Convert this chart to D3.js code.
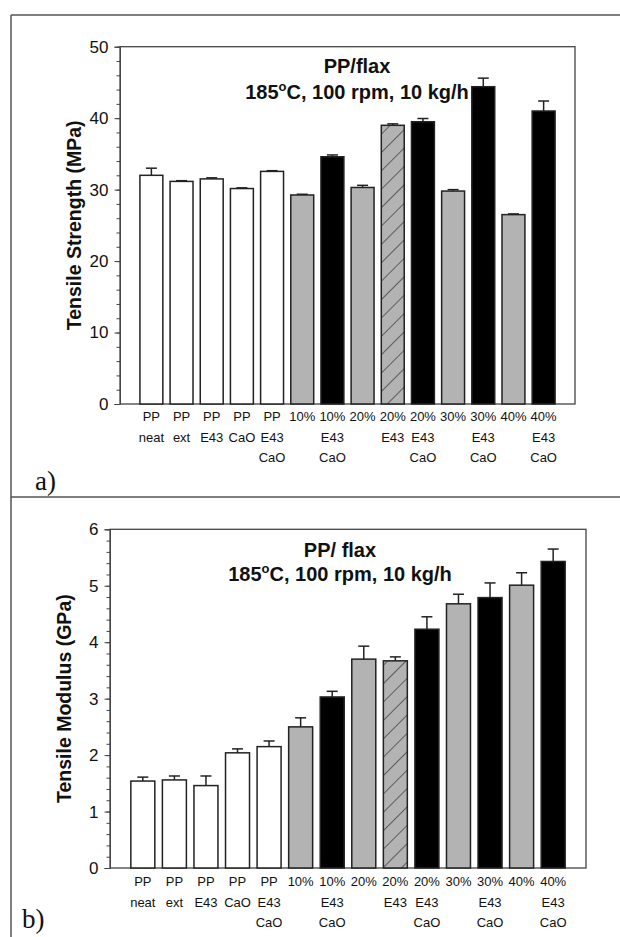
<!DOCTYPE html>
<html>
<head>
<meta charset="utf-8">
<script src="https://cdn.jsdelivr.net/npm/d3@7"></script>
<style>
  body { margin: 0; background: #fff; }
  svg text { font-family: "Liberation Sans", Arial, sans-serif; fill: #111; }
</style>
</head>
<body>
<div id="chart"></div>
<script>
// categories, one array of label lines per bar
const categories = [
    ["PP", "neat"], ["PP", "ext"], ["PP", "E43"], ["PP", "CaO"], ["PP", "E43", "CaO"],
    ["10%"], ["10%", "E43", "CaO"], ["20%"], ["20%", "E43"], ["20%", "E43", "CaO"],
    ["30%"], ["30%", "E43", "CaO"], ["40%"], ["40%", "E43", "CaO"]
];
// bar fill kind per category
const barKinds = ["white", "white", "white", "white", "white",
    "gray", "black", "gray", "hatch", "black", "gray", "black", "gray", "black"];

const strength = [32.0, 31.15, 31.5, 30.15, 32.55, 29.25, 34.6, 30.3, 39.0, 39.5, 29.8, 44.4, 26.5, 41.0];
const strengthErr = [1.0, 0.1, 0.15, 0.1, 0.1, 0.1, 0.25, 0.3, 0.2, 0.45, 0.2, 1.2, 0.1, 1.4];

const modulus = [1.54, 1.56, 1.46, 2.04, 2.15, 2.50, 3.03, 3.70, 3.67, 4.23, 4.68, 4.79, 5.01, 5.43];
const modulusErr = [0.07, 0.07, 0.17, 0.07, 0.10, 0.16, 0.10, 0.23, 0.07, 0.22, 0.17, 0.26, 0.22, 0.22];

const strengthTicks = [0, 10, 20, 30, 40, 50];
const modulusTicks = [0, 1, 2, 3, 4, 5, 6];

const width = 620, height = 937;
const ink = "#222";

let svg = d3.select("#chart")
    .append("svg")
    .attr("width", width)
    .attr("height", height);

// hatch pattern for the 20% E43 bar
let defs = svg.append("defs");
let pat = defs.append("pattern")
    .attr("id", "hatch")
    .attr("patternUnits", "userSpaceOnUse")
    .attr("width", 13)
    .attr("height", 13)
    .attr("patternTransform", "rotate(45)");
pat.append("rect").attr("width", 13).attr("height", 13).attr("fill", "#b3b3b3");
pat.append("line").attr("x1", 0).attr("y1", 0).attr("x2", 0).attr("y2", 13)
    .attr("stroke", "#222").attr("stroke-width", 1.2);

let fills = { white: "#fff", gray: "#b3b3b3", black: "#000", hatch: "url(#hatch)" };

// outer frame of the figure
svg.append("line").attr("x1", 11).attr("y1", 15).attr("x2", width).attr("y2", 15)
    .attr("stroke", "#555").attr("stroke-width", 1.5);
svg.append("line").attr("x1", 11).attr("y1", 15).attr("x2", 11).attr("y2", height)
    .attr("stroke", "#555").attr("stroke-width", 1.5);
svg.append("line").attr("x1", 11).attr("y1", 497).attr("x2", width).attr("y2", 497)
    .attr("stroke", "#555").attr("stroke-width", 1.5);

function drawPanel(p) {
    let g = svg.append("g");

    let x = d3.scaleBand()
        .domain(d3.range(categories.length))
        .range([p.left, p.right])
        .paddingInner(0.24)
        .paddingOuter(0.66);

    let y = d3.scaleLinear()
        .domain([0, p.max])
        .range([p.bottom, p.top]);

    // plot box
    g.append("rect")
        .attr("x", p.left).attr("y", p.top)
        .attr("width", p.right - p.left).attr("height", p.bottom - p.top)
        .attr("fill", "none").attr("stroke", "#444").attr("stroke-width", 1.3);

    // minor ticks
    g.append("g")
        .attr("transform", `translate(${p.left},0)`)
        .call(d3.axisLeft(y).tickValues(d3.range(0, p.max + 1e-9, p.minor)).tickSize(3.5).tickFormat(""))
        .call(a => a.select(".domain").remove())
        .call(a => a.selectAll("line").attr("stroke", "#444"));

    // major ticks + labels
    g.append("g")
        .attr("transform", `translate(${p.left},0)`)
        .call(d3.axisLeft(y).tickValues(p.ticks).tickFormat(d3.format("d")).tickSize(5.5).tickPadding(6))
        .call(a => a.select(".domain").attr("stroke", "#444"))
        .call(a => a.selectAll("line").attr("stroke", "#444"))
        .call(a => a.selectAll("text")
            .style("font-family", "Liberation Sans, Arial, sans-serif")
            .style("font-size", "17px").attr("fill", "#222"));

    // bars
    g.selectAll(".bar")
        .data(p.values)
        .enter()
        .append("rect")
        .attr("x", (d, i) => x(i))
        .attr("y", d => y(d))
        .attr("width", x.bandwidth())
        .attr("height", d => p.bottom - y(d))
        .attr("fill", (d, i) => fills[barKinds[i]])
        .attr("stroke", ink)
        .attr("stroke-width", 1.5);

    // error bars (upper only)
    let err = g.selectAll(".err")
        .data(p.values)
        .enter()
        .append("g");
    err.append("line")
        .attr("x1", (d, i) => x(i) + x.bandwidth() / 2)
        .attr("x2", (d, i) => x(i) + x.bandwidth() / 2)
        .attr("y1", d => y(d))
        .attr("y2", (d, i) => y(d + p.errs[i]))
        .attr("stroke", ink).attr("stroke-width", 1.5);
    err.append("line")
        .attr("x1", (d, i) => x(i) + x.bandwidth() / 2 - 5.5)
        .attr("x2", (d, i) => x(i) + x.bandwidth() / 2 + 5.5)
        .attr("y1", (d, i) => y(d + p.errs[i]))
        .attr("y2", (d, i) => y(d + p.errs[i]))
        .attr("stroke", ink).attr("stroke-width", 1.5);

    // category labels, stacked lines
    let lab = g.selectAll(".cat")
        .data(categories)
        .enter()
        .append("text")
        .attr("text-anchor", "middle")
        .style("font-size", "13px");
    lab.selectAll("tspan")
        .data((d, i) => d.map(s => ({ s: s, i: i })))
        .enter()
        .append("tspan")
        .attr("x", d => x(d.i) + x.bandwidth() / 2)
        .attr("y", (d, j) => p.bottom + p.labelGap + j * 20.5)
        .text(d => d.s);

    // y axis title
    g.append("text")
        .attr("transform", `translate(${p.titleX}, ${(p.top + p.bottom) / 2}) rotate(-90)`)
        .attr("text-anchor", "middle")
        .style("font-size", "19.5px")
        .style("font-weight", "bold")
        .text(p.yTitle);

    // in-plot title
    g.append("text")
        .attr("x", p.headX).attr("y", p.headY)
        .attr("text-anchor", "middle")
        .style("font-size", "20px").style("font-weight", "bold")
        .text(p.head);
    let sub = g.append("text")
        .attr("x", p.headX).attr("y", p.headY + p.headGap)
        .attr("text-anchor", "middle")
        .style("font-size", "20px").style("font-weight", "bold");
    sub.append("tspan").text("185");
    sub.append("tspan").attr("dy", -8).style("font-size", "13px").text("o");
    sub.append("tspan").attr("dy", 8).text("C, 100 rpm, 10 kg/h");

    // panel letter
    svg.append("text")
        .attr("x", p.letterX).attr("y", p.letterY)
        .style("font-family", "Liberation Serif, Times New Roman, serif")
        .style("font-size", "27px")
        .text(p.letter);
}

drawPanel({
    left: 120, right: 575, top: 46.7, bottom: 404,
    max: 50, minor: 2, ticks: strengthTicks,
    values: strength, errs: strengthErr,
    labelGap: 17, titleX: 81, yTitle: "Tensile Strength (MPa)",
    head: "PP/flax", headX: 357, headY: 73, headGap: 26,
    letter: "a)", letterX: 35, letterY: 490
});

drawPanel({
    left: 110, right: 586, top: 529.3, bottom: 868,
    max: 6, minor: 0.2, ticks: modulusTicks,
    values: modulus, errs: modulusErr,
    labelGap: 18, titleX: 71, yTitle: "Tensile Modulus (GPa)",
    head: "PP/ flax", headX: 340, headY: 557, headGap: 24,
    letter: "b)", letterX: 22, letterY: 928
});
</script>
</body>
</html>
